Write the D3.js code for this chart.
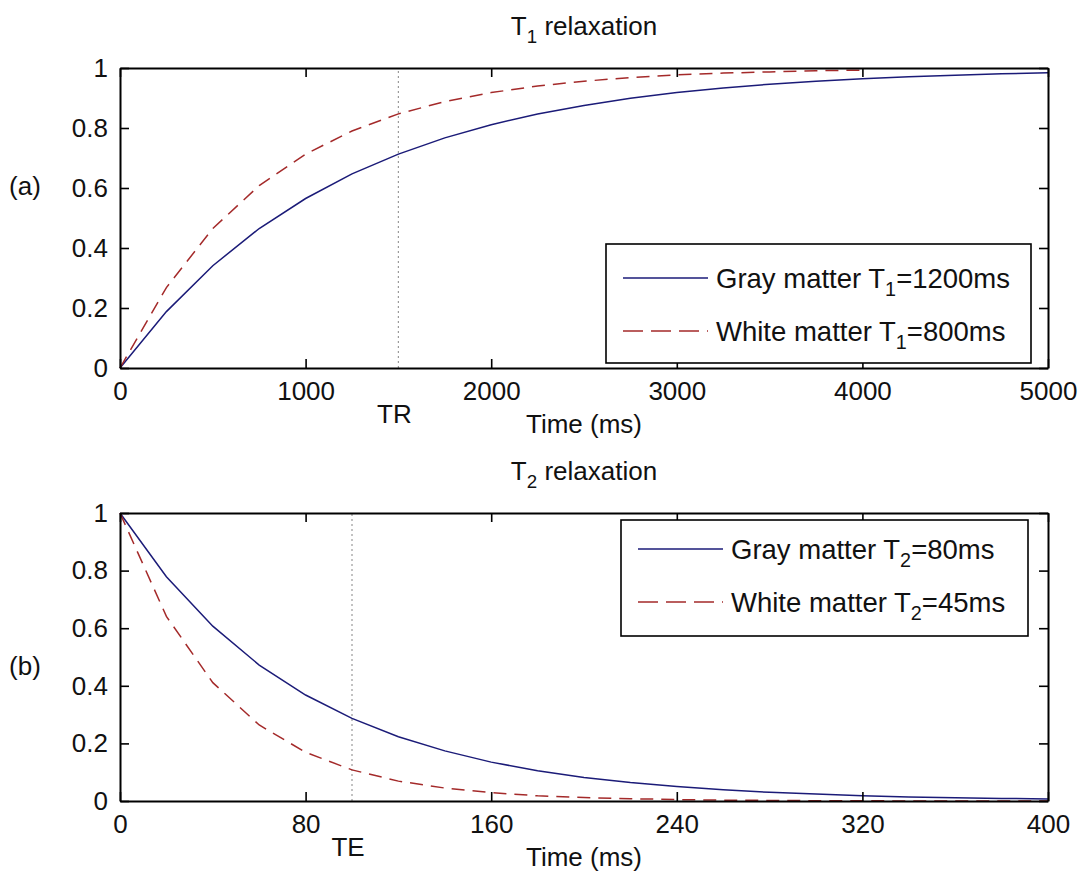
<!DOCTYPE html>
<html>
<head>
<meta charset="utf-8">
<script src="https://cdn.jsdelivr.net/npm/d3@7"></script>
<style>
  html, body { margin: 0; padding: 0; background: #fff; }
  svg { display: block; }
  text { font-family: "Liberation Sans", Arial, sans-serif; fill: #111; }
</style>
</head>
<body>
<svg id="chart" width="1089" height="882"></svg>
<script>
// ---------- data ----------
const t1Time      = [0,250,500,750,1000,1250,1500,1750,2000,2250,2500,2750,3000,3250,3500,3750,4000,4250,4500,4750,5000];
const t1Gray      = [0,0.188,0.341,0.465,0.565,0.647,0.713,0.767,0.811,0.847,0.875,0.899,0.918,0.933,0.946,0.956,0.964,0.971,0.976,0.981,0.984];
const t1WhiteTime = [0,250,500,750,1000,1250,1500,1750,2000,2250,2500,2750,3000,3250,3500,3750,4000];
const t1White     = [0,0.268,0.465,0.608,0.713,0.790,0.847,0.888,0.918,0.940,0.956,0.968,0.977,0.983,0.987,0.991,0.993];

const t2Time  = [0,20,40,60,80,100,120,140,160,180,200,220,240,260,280,300,320,340,360,380,400];
const t2Gray  = [1,0.779,0.607,0.472,0.368,0.287,0.223,0.174,0.135,0.105,0.082,0.064,0.050,0.039,0.030,0.024,0.018,0.014,0.011,0.009,0.007];
const t2White = [1,0.641,0.411,0.264,0.169,0.108,0.069,0.045,0.029,0.018,0.012,0.008,0.005,0.003,0.002,0.001,0.001,0,0,0,0];

const t1XTicks = [0,1000,2000,3000,4000,5000];
const t2XTicks = [0,80,160,240,320,400];
const yTicks   = [0,0.2,0.4,0.6,0.8,1];

const TR = 1500, TE = 100;

const t1Legend = [["Gray matter T","1","=1200ms"],["White matter T","1","=800ms"]];
const t2Legend = [["Gray matter T","2","=80ms"],["White matter T","2","=45ms"]];

// ---------- styles ----------
const FS = 26;
const LFS = 27.5;
const GRAY_COL = "#1b1b78";
const WHITE_COL = "#a42a2a";

const svg = d3.select("#chart");
svg.append("rect").attr("width",1089).attr("height",882).attr("fill","#fff");

function subText(sel, parts, fs) {
  sel.append("tspan").text(parts[0]);
  sel.append("tspan").attr("dy", 8).attr("font-size", fs*0.72).text(parts[1]);
  sel.append("tspan").attr("dy", -8).text(parts[2]);
}

function panel(cfg) {
  const x = d3.scaleLinear().domain(cfg.xDomain).range([120, 1048]);
  const y = d3.scaleLinear().domain([0,1]).range([cfg.bottom, cfg.top]);
  const g = svg.append("g");

  // dotted marker line
  g.append("line")
    .attr("x1", x(cfg.marker)).attr("x2", x(cfg.marker))
    .attr("y1", y(0)).attr("y2", y(1))
    .attr("stroke", "#9a9a9a").attr("stroke-width", 1.2)
    .attr("stroke-dasharray", "2,3");

  const line = d3.line().x(d => x(d[0])).y(d => y(d[1]));
  g.append("path")
    .datum(cfg.grayX.map((t,i) => [t, cfg.grayY[i]]))
    .attr("d", line).attr("fill","none")
    .attr("stroke", GRAY_COL).attr("stroke-width", 1.5);
  g.append("path")
    .datum(cfg.whiteX.map((t,i) => [t, cfg.whiteY[i]]))
    .attr("d", line).attr("fill","none")
    .attr("stroke", WHITE_COL).attr("stroke-width", 1.5)
    .attr("stroke-dasharray", "13,8");

  // axes (box with inward ticks)
  const fmt = d => d3.format("~g")(d);
  const axB = g.append("g").attr("transform", `translate(0,${cfg.bottom})`)
    .call(d3.axisBottom(x).tickValues(cfg.xTicks).tickSizeInner(-9).tickSizeOuter(0).tickPadding(14).tickFormat(fmt));
  const axT = g.append("g").attr("transform", `translate(0,${cfg.top})`)
    .call(d3.axisTop(x).tickValues(cfg.xTicks).tickSizeInner(-9).tickSizeOuter(0).tickFormat(""));
  const axL = g.append("g").attr("transform", `translate(120,0)`)
    .call(d3.axisLeft(y).tickValues(yTicks).tickSizeInner(-9).tickSizeOuter(0).tickPadding(12).tickFormat(fmt));
  const axR = g.append("g").attr("transform", `translate(1048,0)`)
    .call(d3.axisRight(y).tickValues(yTicks).tickSizeInner(-9).tickSizeOuter(0).tickFormat(""));
  [axB, axT, axL, axR].forEach(a => {
    a.select(".domain").attr("stroke","#000").attr("stroke-width",2);
    a.selectAll(".tick line").attr("stroke","#000").attr("stroke-width",1.6);
    a.selectAll("text").attr("font-size", FS).attr("font-family", "Liberation Sans, Arial, sans-serif").attr("fill","#111");
  });

  // title
  const title = g.append("text").attr("x", 584).attr("y", cfg.top - 33)
    .attr("text-anchor","middle").attr("font-size", FS);
  subText(title, cfg.title, FS);

  // x label
  g.append("text").attr("x", 584).attr("y", cfg.bottom + 65)
    .attr("text-anchor","middle").attr("font-size", FS).text("Time (ms)");

  // marker label
  g.append("text").attr("x", x(cfg.marker) - 4).attr("y", cfg.bottom + 55)
    .attr("text-anchor","middle").attr("font-size", FS).text(cfg.markerLabel);

  // panel letter
  g.append("text").attr("x", 25).attr("y", cfg.letterY)
    .attr("text-anchor","middle").attr("font-size", FS).text(cfg.letter);

  // legend
  const L = cfg.legend;
  g.append("rect").attr("x", L.x0).attr("y", L.y0)
    .attr("width", L.x1 - L.x0).attr("height", L.y1 - L.y0)
    .attr("fill","#fff").attr("stroke","#000").attr("stroke-width",1.6);
  const cols = [GRAY_COL, WHITE_COL];
  const dashes = [null, "20,8"];
  cfg.legendText.forEach((parts, i) => {
    const ly = L.rows[i];
    g.append("line").attr("x1", L.lx0).attr("x2", L.lx1).attr("y1", ly).attr("y2", ly)
      .attr("stroke", cols[i]).attr("stroke-width", 1.5)
      .attr("stroke-dasharray", dashes[i]);
    const t = g.append("text").attr("x", L.tx).attr("y", ly + 10).attr("font-size", LFS);
    subText(t, parts, LFS);
  });
}

panel({
  xDomain: [0,5000], top: 68, bottom: 368,
  grayX: t1Time, grayY: t1Gray, whiteX: t1WhiteTime, whiteY: t1White,
  xTicks: t1XTicks, marker: TR, markerLabel: "TR",
  title: ["T","1"," relaxation"], letter: "(a)", letterY: 195,
  legendText: t1Legend,
  legend: {x0: 606, x1: 1031, y0: 244, y1: 363, rows: [278, 331], lx0: 623, lx1: 708, tx: 716}
});

panel({
  xDomain: [0,400], top: 513, bottom: 801,
  grayX: t2Time, grayY: t2Gray, whiteX: t2Time, whiteY: t2White,
  xTicks: t2XTicks, marker: TE, markerLabel: "TE",
  title: ["T","2"," relaxation"], letter: "(b)", letterY: 675,
  legendText: t2Legend,
  legend: {x0: 621, x1: 1028, y0: 520, y1: 636, rows: [549, 602], lx0: 638, lx1: 723, tx: 731}
});
</script>
</body>
</html>
